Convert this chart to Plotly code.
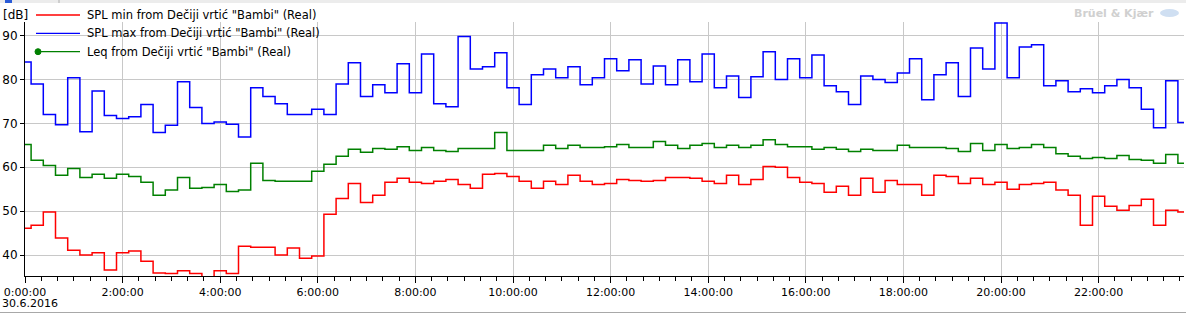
import plotly.graph_objects as go
import pandas as pd

# ---------------- data (15-minute intervals, 30.6.2016) ----------------
times = pd.date_range("2016-06-30 00:00", periods=96, freq="15min")

spl_min = [46.1, 46.8, 49.8, 43.9, 41.1, 40.0, 40.5, 36.6, 40.5, 40.9, 38.6, 35.9,
           35.8, 36.4, 35.8, 35.0, 36.4, 35.8, 42.0, 41.8, 41.8, 40.0, 41.6, 39.3,
           39.8, 49.3, 52.9, 56.3, 52.0, 53.6, 56.6, 57.5, 56.6, 56.3, 56.8, 57.2,
           56.1, 55.2, 58.4, 58.6, 57.9, 56.8, 55.2, 56.8, 56.1, 58.2, 56.8, 56.1,
           56.3, 57.2, 57.0, 56.8, 57.0, 57.7, 57.7, 57.5, 56.8, 56.3, 58.2, 56.1,
           57.2, 60.2, 60.0, 57.7, 56.6, 56.3, 54.3, 55.7, 53.6, 57.5, 54.3, 57.0,
           56.1, 56.1, 53.6, 58.2, 57.9, 56.3, 57.5, 56.1, 56.6, 55.0, 56.1, 56.3,
           56.6, 54.8, 53.6, 46.8, 53.4, 51.1, 50.2, 51.3, 52.7, 46.8, 50.2, 49.8]

spl_max = [84.0, 79.0, 72.0, 69.7, 80.4, 68.1, 77.4, 71.8, 71.1, 71.5, 74.3, 67.9,
           69.6, 79.5, 73.6, 70.0, 70.3, 69.8, 66.9, 78.1, 76.1, 74.5, 72.0, 72.0,
           73.2, 72.0, 79.0, 83.8, 76.1, 78.8, 77.0, 83.6, 77.0, 85.8, 74.5, 73.8,
           89.8, 82.4, 82.9, 86.1, 78.1, 74.3, 81.1, 82.4, 80.4, 82.9, 78.8, 80.4,
           84.7, 82.0, 84.5, 79.0, 83.1, 78.8, 84.5, 79.5, 85.8, 78.1, 80.8, 75.9,
           80.6, 86.3, 80.0, 84.7, 80.4, 85.6, 78.6, 77.2, 74.3, 80.8, 80.0, 79.3,
           81.5, 84.7, 75.4, 81.1, 83.8, 76.1, 87.2, 82.4, 92.9, 80.4, 87.4, 87.9,
           78.6, 79.7, 77.2, 77.9, 77.0, 78.6, 80.0, 78.1, 73.2, 69.0, 79.7, 70.2]

leq = [65.2, 61.6, 60.4, 58.2, 59.7, 57.7, 58.4, 57.5, 58.4, 57.9, 56.6, 53.6,
       54.8, 57.7, 55.2, 55.4, 56.1, 54.5, 54.8, 60.9, 57.0, 56.8, 56.8, 56.8,
       59.1, 60.7, 62.5, 64.1, 63.4, 64.3, 64.1, 64.7, 63.8, 64.5, 63.8, 63.6,
       64.3, 64.3, 64.3, 67.9, 63.8, 63.8, 63.8, 65.0, 64.3, 65.0, 64.5, 64.5,
       64.7, 65.2, 64.5, 64.5, 65.9, 65.0, 64.3, 65.0, 65.4, 64.5, 65.0, 64.5,
       65.0, 66.3, 65.2, 64.7, 64.7, 64.1, 64.5, 64.1, 63.6, 64.1, 63.8, 63.8,
       65.0, 64.5, 64.5, 64.5, 64.3, 63.6, 65.4, 63.8, 65.2, 64.3, 64.5, 65.2,
       64.5, 63.1, 62.5, 62.0, 62.2, 62.0, 62.7, 61.8, 61.6, 60.9, 62.9, 60.9]

series_names = ['SPL min from Dečiji vrtić "Bambi" (Real)',
                'SPL max from Dečiji vrtić "Bambi" (Real)',
                'Leq from Dečiji vrtić "Bambi" (Real)']
series_colors = ["#ff0000", "#0000ff", "#008000"]

x_tick_vals = ["2016-06-30 %02d:00" % h for h in range(0, 24, 2)]
x_tick_text = ["%d:00:00" % h for h in range(0, 24, 2)]
y_tick_vals = [40, 50, 60, 70, 80, 90]
date_label = "30.6.2016"
unit_label = "[dB]"
logo_text = "Brüel & Kjær"

# ---------------- layout helpers ----------------
W, H = 1186, 314
L, R, T, B = 25, 2, 22, 38
PW, PH = W - L - R, H - T - B


def px(x):
    return (x - L) / PW


def py(y):
    return (H - B - y) / PH


FONT = "DejaVu Sans"

fig = go.Figure()
for vals, name, col in zip([spl_min, spl_max, leq], series_names, series_colors):
    fig.add_trace(go.Scatter(x=times, y=vals, mode="lines", name=name,
                             line=dict(color=col, width=1.5, shape="hvh"),
                             showlegend=False, hoverinfo="x+y"))

shapes = []
annotations = []

# top tool strip
shapes.append(dict(type="rect", xref="paper", yref="paper", x0=px(0), x1=px(W),
                   y0=py(3), y1=py(0), fillcolor="#ececec", line=dict(width=0), layer="above"))
shapes.append(dict(type="rect", xref="paper", yref="paper", x0=px(5), x1=px(12),
                   y0=py(3), y1=py(0), fillcolor="#2a5bd7", line=dict(width=0), layer="above"))
shapes.append(dict(type="line", xref="paper", yref="paper", x0=px(59), x1=px(59),
                   y0=py(3), y1=py(0), line=dict(color="#b0b0b0", width=1), layer="above"))
# bottom separator
shapes.append(dict(type="line", xref="paper", yref="paper", x0=px(0), x1=px(W),
                   y0=py(312.5), y1=py(312.5), line=dict(color="#a8a8a8", width=1)))

# manual legend
legend_rows = [15, 33.3, 51.7]
for i, (name, col) in enumerate(zip(series_names, series_colors)):
    yy = py(legend_rows[i])
    shapes.append(dict(type="line", xref="paper", yref="paper", x0=px(36), x1=px(80),
                       y0=yy, y1=yy, line=dict(color=col, width=1.3), layer="above"))
    annotations.append(dict(text=name, xref="paper", yref="paper", x=px(85), y=yy,
                            xanchor="left", yanchor="middle", showarrow=False,
                            font=dict(family=FONT, size=11.5, color="black")))
# green legend marker dot
shapes.append(dict(type="circle", xref="paper", yref="paper", x0=px(35), x1=px(41),
                   y0=py(legend_rows[2] + 3), y1=py(legend_rows[2] - 3),
                   fillcolor="#008000", line=dict(color="#008000", width=1), layer="above"))

# unit label
annotations.append(dict(text=unit_label, xref="paper", yref="paper", x=px(1), y=py(15),
                        xanchor="left", yanchor="middle", showarrow=False,
                        font=dict(family=FONT, size=12, color="black")))
# date label
annotations.append(dict(text=date_label, xref="paper", yref="paper", x=px(0), y=py(303),
                        xanchor="left", yanchor="middle", showarrow=False,
                        font=dict(family=FONT, size=11, color="black")))
# logo
annotations.append(dict(text="<b>" + logo_text + "</b>", xref="paper", yref="paper",
                        x=px(1156), y=py(13), xanchor="right", yanchor="middle",
                        showarrow=False, font=dict(family=FONT, size=11, color="#d0d0d0")))
shapes.append(dict(type="circle", xref="paper", yref="paper", x0=px(1160), x1=px(1179),
                   y0=py(17), y1=py(9), fillcolor="#cfdff2", line=dict(width=0), layer="above"))

fig.update_layout(
    width=W, height=H,
    margin=dict(l=L, r=R, t=T, b=B, pad=0),
    paper_bgcolor="white", plot_bgcolor="white",
    showlegend=False,
    shapes=shapes, annotations=annotations,
    font=dict(family=FONT, size=11, color="black"),
    xaxis=dict(
        type="date",
        range=[times[0], times[-1]],
        tickmode="array", tickvals=x_tick_vals, ticktext=x_tick_text,
        ticks="outside", ticklen=6, tickcolor="black", tickwidth=1,
        showgrid=True, gridcolor="#c8c8c8", gridwidth=1,
        showline=True, linecolor="black", linewidth=1,
        zeroline=False,
        tickfont=dict(family=FONT, size=11, color="black"),
        minor=dict(tickmode="linear", tick0="2016-06-30 00:00", dtick=20 * 60 * 1000,
                   ticks="outside", ticklen=4, tickcolor="black", showgrid=False),
    ),
    yaxis=dict(
        range=[35.23, 93.1],
        tickmode="array", tickvals=y_tick_vals,
        ticks="outside", ticklen=4, tickcolor="black", tickwidth=1,
        showgrid=True, gridcolor="#c8c8c8", gridwidth=1,
        showline=True, linecolor="black", linewidth=1,
        zeroline=False,
        tickfont=dict(family=FONT, size=12, color="black"),
    ),
)

fig.write_html("out.html")
